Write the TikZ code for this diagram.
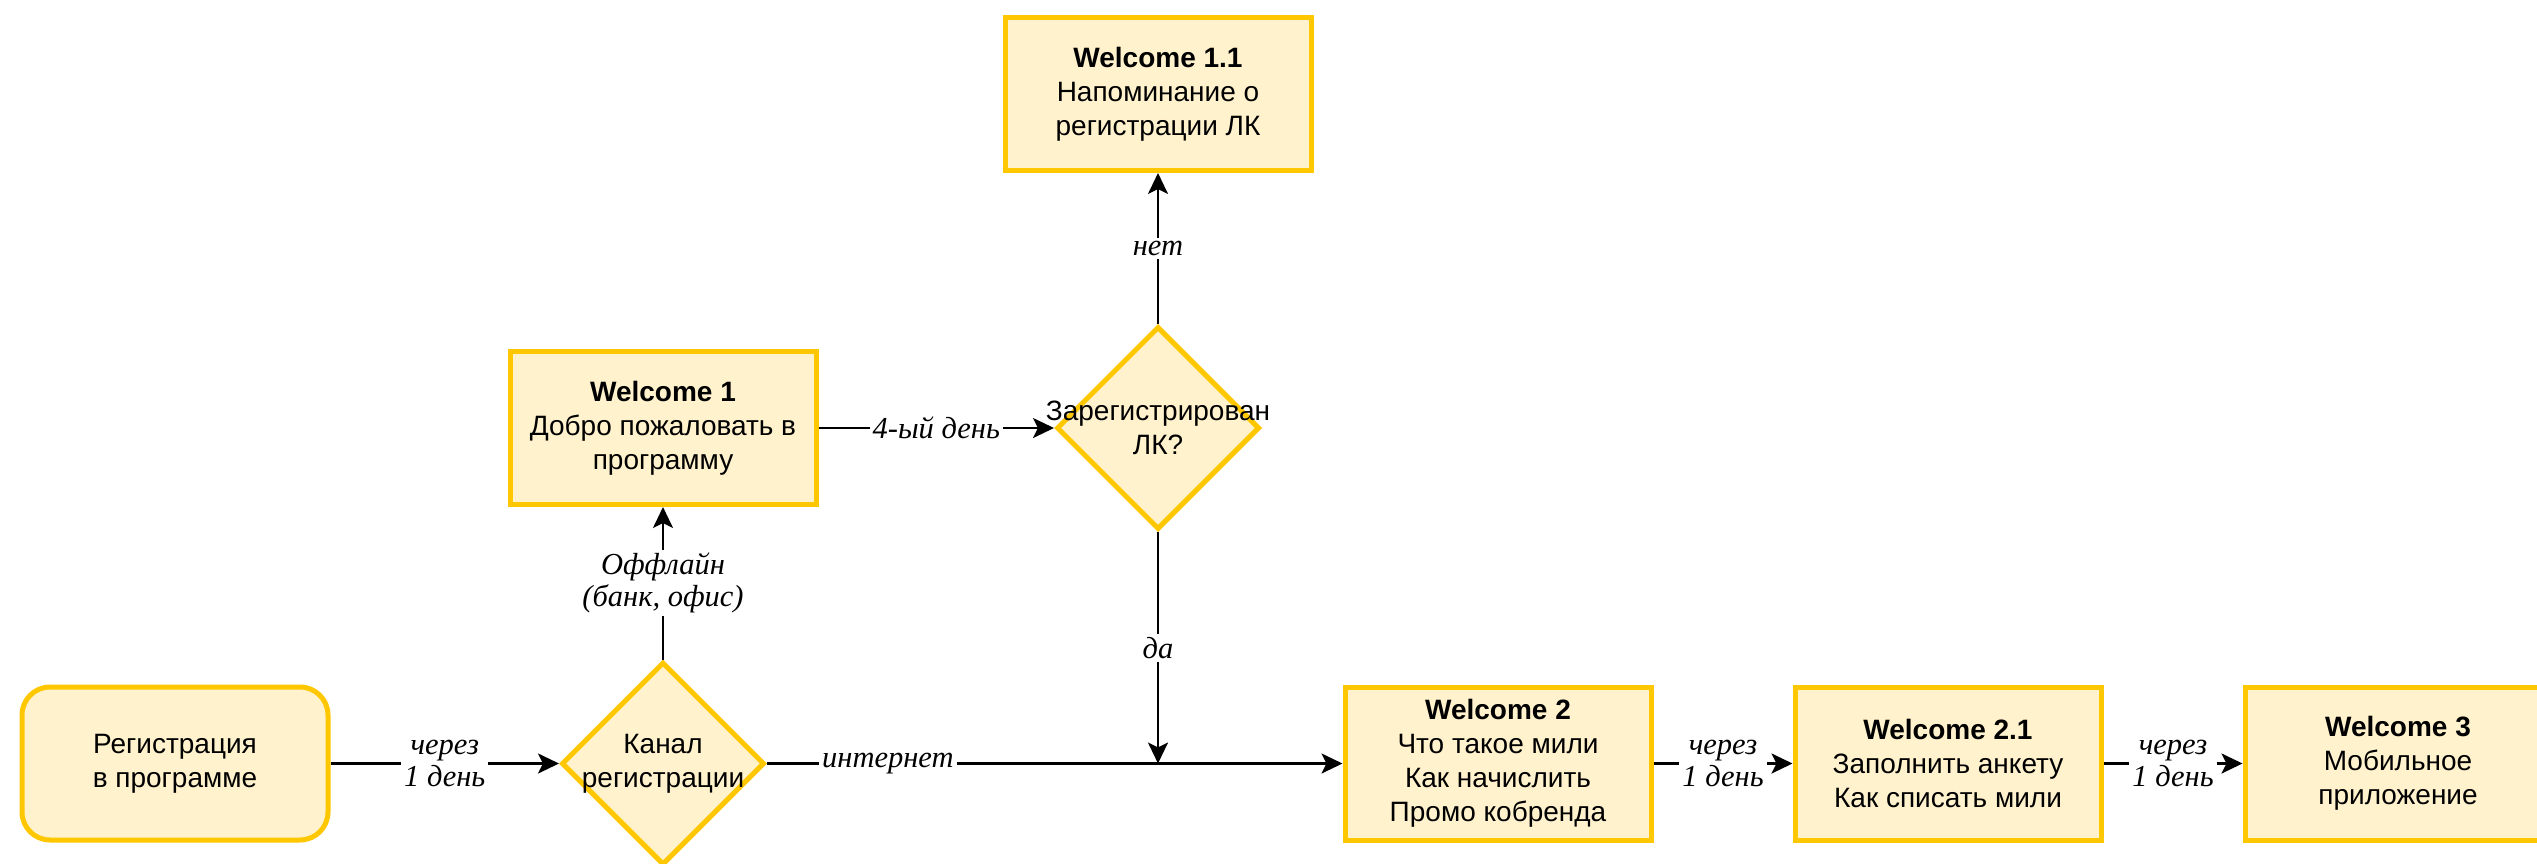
\documentclass[tikz,border=0pt]{standalone}
\usepackage{fontspec}
\setmainfont{Liberation Sans}
\newfontfamily\lblfamily{Liberation Serif}
\usetikzlibrary{shapes.geometric,arrows.meta}
\definecolor{bfill}{HTML}{FFF2CC}
\definecolor{bstroke}{HTML}{FFC700}
\newcommand\bxf{\fontsize{28}{34}\selectfont}
\newcommand\lbf{\lblfamily\itshape\fontsize{30.5}{32}\selectfont}
\tikzset{
  box/.style={draw=bstroke, fill=bfill, line width=5pt, minimum width=306pt,
    minimum height=153pt, inner sep=0pt, align=center, font=\bxf},
  rbox/.style={box, rounded corners=28pt},
  dia/.style={diamond, aspect=1, draw=bstroke, fill=bfill, line width=5pt,
    minimum width=203pt, minimum height=203pt, inner sep=0pt},
  dtxt/.style={align=center, font=\bxf, inner sep=0pt},
  conn/.style={line width=2.6pt, draw=black, -{Stealth[length=21pt,width=20pt,inset=5pt]}},
  elbl/.style={fill=white, font=\lbf, align=center, inner sep=3pt},
}
\begin{document}
\begin{tikzpicture}[x=1pt,y=-1pt]
\clip (0,0) rectangle (2537,863);
\fill[white] (0,0) rectangle (2537,863);
\node[rbox] (reg) at (175,763.5) {Регистрация\\в программе};
\node[dia] (kan) at (663,763.5) {};
\node[dtxt] (kant) at (kan) {Канал\\регистрации};
\node[box] (w1) at (663,428) {\textbf{Welcome 1}\\Добро пожаловать в\\программу};
\node[dia] (zar) at (1158,428) {};
\node[dtxt] (zart) at (zar) {Зарегистрирован\\ЛК?};
\node[box] (w11) at (1158,94) {\textbf{Welcome 1.1}\\Напоминание о\\регистрации ЛК};
\node[box] (w2) at (1498,763.5) {\textbf{Welcome 2}\\Что такое мили\\Как начислить\\Промо кобренда};
\node[box] (w21) at (1948,763.5) {\textbf{Welcome 2.1}\\Заполнить анкету\\Как списать мили};
\node[box] (w3) at (2398,763.5) {\textbf{Welcome 3}\\Мобильное\\приложение};
\coordinate (j) at (zar.south |- kan.east);
\draw[conn] (reg.east) -- node[elbl]{через\\1 день} (kan.west);
\draw[conn] (kan.north) -- node[elbl]{Оффлайн\\(банк, офис)} (w1.south);
\draw[conn] (w1.east) -- node[elbl]{4-ый день} (zar.west);
\draw[conn] (zar.north) -- node[elbl]{нет} (w11.south);
\draw[conn] (zar.south) -- node[elbl]{да} (j);
\draw[conn] (kan.east) -- node[elbl,pos=0.21]{интернет} (w2.west);
\draw[conn] (w2.east) -- node[elbl]{через\\1 день} (w21.west);
\draw[conn] (w21.east) -- node[elbl]{через\\1 день} (w3.west);
\end{tikzpicture}
\end{document}
